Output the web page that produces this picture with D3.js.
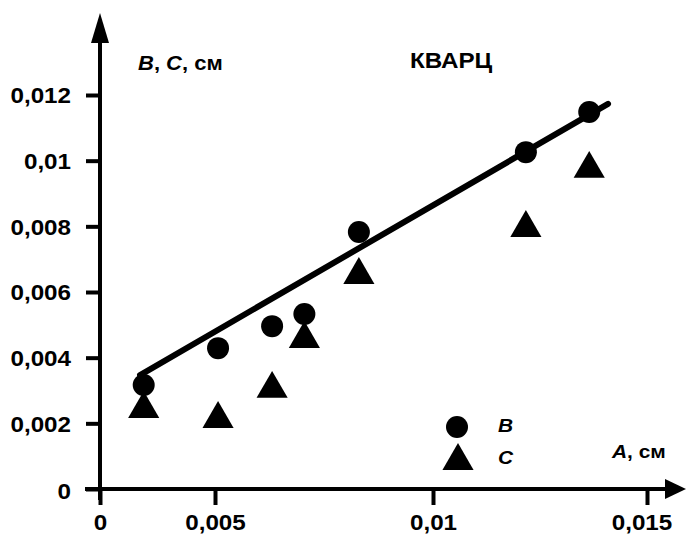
<!DOCTYPE html>
<html>
<head>
<meta charset="utf-8">
<title>КВАРЦ</title>
<script src="https://cdn.jsdelivr.net/npm/d3@7"></script>
<style>
  body { margin: 0; background: #fff; }
  svg text { font-family: "Liberation Sans", Arial, sans-serif; font-weight: bold; fill: #000; }
</style>
</head>
<body>
<div id="chart"></div>
<script>
// A, см - shared x values for both series
var aVals = [0.00190, 0.00507, 0.00631, 0.00705, 0.00830, 0.01217, 0.01365];
// B (circles) and C (triangles), см
var bVals = [0.00317, 0.00429, 0.00496, 0.00533, 0.00783, 0.01026, 0.01148];
var cVals = [0.00244, 0.00213, 0.00305, 0.00457, 0.00652, 0.00795, 0.00975];
// fitted line through B, two end points [A, B]
var fitLine = [[0.00174, 0.00347], [0.01409, 0.01173]];

var xTicks = [0, 0.005, 0.01, 0.015];
var yTicks = [0, 0.002, 0.004, 0.006, 0.008, 0.01, 0.012];

var width = 686, height = 536;
var stretch = 1.1; // the lettering in the picture is a little wide

var svg = d3.select("#chart").append("svg")
  .attr("width", width).attr("height", height);

// the picture's x axis is not even: the 0..0.005 stretch is shorter
var x = d3.scaleLinear().domain(xTicks).range([100, 215, 433, 647]);
var y = d3.scaleLinear().domain([0, 0.012]).range([489, 95]);

var ru = d3.formatLocale({decimal: ",", thousands: " ", grouping: [3], currency: ["", ""]});
var fmt = ru.format("~g");

function label(x0, y0, parts, size) {
  var t = svg.append("text")
    .attr("transform", "translate(" + x0 + "," + y0 + ") scale(" + stretch + ",1)")
    .attr("font-size", size);
  parts.forEach(function(p) {
    t.append("tspan").attr("font-style", p[1] ? "italic" : "normal").text(p[0]);
  });
  return t;
}

// axes
var xAxis = svg.append("g").attr("transform", "translate(0," + y(0) + ")")
  .call(d3.axisBottom(x).tickValues(xTicks).tickSize(16).tickFormat(fmt));
xAxis.select(".domain").remove();
xAxis.selectAll(".tick line").attr("stroke", "#000").attr("stroke-width", 4);
xAxis.selectAll(".tick text")
  .attr("x", function(d) { return d === 0.015 ? -5 : 0; })
  .attr("y", 41).attr("dy", 0)
  .attr("font-size", 22)
  .attr("transform", "scale(" + stretch + ",1)");

var yAxis = svg.append("g").attr("transform", "translate(" + x(0) + ",0)")
  .call(d3.axisLeft(y).tickValues(yTicks).tickSize(14).tickFormat(fmt));
yAxis.select(".domain").remove();
yAxis.selectAll(".tick line").attr("stroke", "#000").attr("stroke-width", 4);
yAxis.selectAll(".tick text")
  .attr("font-size", 22)
  .attr("x", -29 / stretch)
  .attr("dy", "0.35em")
  .attr("transform", "scale(" + stretch + ",1)");
yAxis.selectAll(".tick").filter(function(d) { return d === 0; }).select("text").attr("dy", "0.45em");

// axis lines with arrows
svg.append("line")
  .attr("x1", 85).attr("x2", 668)
  .attr("y1", y(0)).attr("y2", y(0))
  .attr("stroke", "#000").attr("stroke-width", 4);
svg.append("path")
  .attr("d", "M686," + y(0) + "L665," + (y(0) - 10) + "L665," + (y(0) + 10) + "Z")
  .attr("fill", "#000");
svg.append("line")
  .attr("x1", x(0)).attr("x2", x(0))
  .attr("y1", 500).attr("y2", 40)
  .attr("stroke", "#000").attr("stroke-width", 4);
svg.append("path")
  .attr("d", "M" + x(0) + ",13L" + (x(0) - 9) + ",43L" + (x(0) + 9) + ",43Z")
  .attr("fill", "#000");

// fitted line
svg.append("path")
  .datum(fitLine)
  .attr("d", d3.line().x(function(d) { return x(d[0]); }).y(function(d) { return y(d[1]); }))
  .attr("fill", "none")
  .attr("stroke", "#000")
  .attr("stroke-width", 6)
  .attr("stroke-linecap", "round");

var tri = d3.symbol().type(d3.symbolTriangle).size(420);

// B points
svg.selectAll("circle.b").data(aVals).enter().append("circle")
  .attr("class", "b")
  .attr("cx", function(d) { return x(d); })
  .attr("cy", function(d, i) { return y(bVals[i]); })
  .attr("r", 11)
  .attr("fill", "#000");

// C points
svg.selectAll("path.c").data(aVals).enter().append("path")
  .attr("class", "c")
  .attr("d", tri)
  .attr("transform", function(d, i) { return "translate(" + x(d) + "," + y(cVals[i]) + ")"; })
  .attr("fill", "#000");

// legend
svg.append("circle").attr("cx", 457).attr("cy", 427).attr("r", 11).attr("fill", "#000");
svg.append("path").attr("d", tri).attr("transform", "translate(458,461)").attr("fill", "#000");
label(498, 432, [["B", true]], 19);
label(498, 464, [["C", true]], 19);

// titles
label(138, 70, [["B", true], [", ", false], ["C", true], [", см", false]], 20);
label(410, 68, [["КВАРЦ", false]], 22);
label(612, 458, [["A", true], [", см", false]], 19);
</script>
</body>
</html>
